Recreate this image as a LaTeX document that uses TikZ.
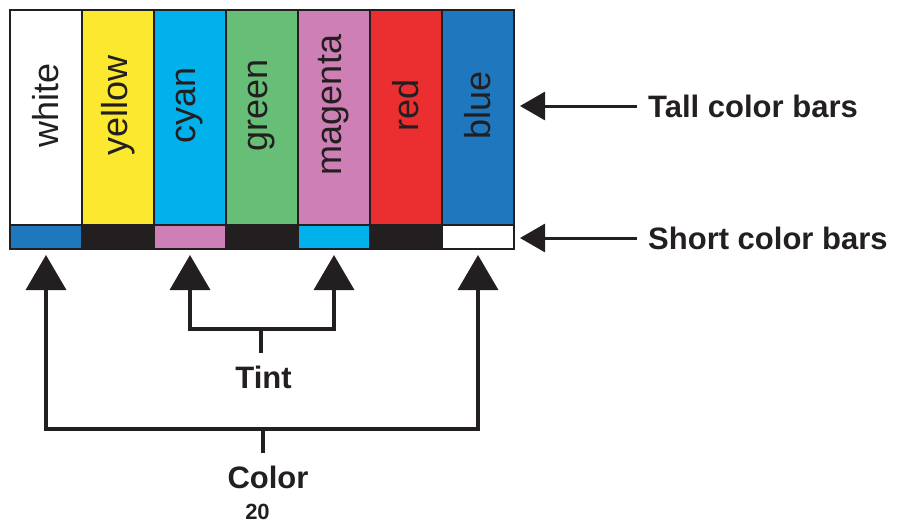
\documentclass[tikz,border=0pt]{standalone}
\usepackage{fontspec}
\setmainfont{Liberation Sans}
\usetikzlibrary{arrows.meta,calc}
\definecolor{baryellow}{HTML}{FCE82E}
\definecolor{barcyan}{HTML}{00B1EC}
\definecolor{bargreen}{HTML}{67BE76}
\definecolor{barmagenta}{HTML}{CE80B6}
\definecolor{barred}{HTML}{EB2E30}
\definecolor{barblue}{HTML}{1F78BE}
\definecolor{ink}{HTML}{231F20}
\tikzset{
  tallbar/.style={draw=ink, line width=1.5pt, minimum width=72pt, minimum height=215pt, inner sep=0pt, outer sep=0pt},
  shortbar/.style={draw=ink, line width=2.5pt, minimum width=72pt, minimum height=24pt, inner sep=0pt, outer sep=0pt},
  barlabel/.style={rotate=90, inner sep=0pt, text=ink, font=\fontsize{36}{36}\selectfont},
  callout/.style={inner sep=0pt, text=ink, font=\bfseries\fontsize{31}{31}\selectfont},
  sidearrow/.style={-{Triangle[length=25pt,width=28pt]}, line width=3pt, draw=ink},
  uparrow/.style={{Triangle[length=35pt,width=40pt]}-{Triangle[length=35pt,width=40pt]}, line width=3.5pt, draw=ink},
  stem/.style={line width=3.5pt, draw=ink}
}
\newcommand{\colbar}[5]{\node[tallbar, fill=#3] (#1) at (#2,-117.5) {}; \node[barlabel] (#1txt) at (#2,-105) {#5}; \node[shortbar, fill=#4] (#1s) at (#2,-237) {};}

\begin{document}
\begin{tikzpicture}[x=1pt, y=1pt]
        \useasboundingbox (0,0) rectangle (905,-525);
        % bars
        \colbar{white}{46}{white}{barblue}{white}
        \colbar{yellow}{118}{baryellow}{ink}{yellow}
        \colbar{cyan}{190}{barcyan}{barmagenta}{cyan}
        \colbar{green}{262}{bargreen}{ink}{green}
        \colbar{magenta}{334}{barmagenta}{barcyan}{magenta}
        \colbar{red}{406}{barred}{ink}{red}
        \colbar{blue}{478}{barblue}{white}{blue}
        \draw[ink, line width=2pt] (white.north west) rectangle (blues.south east);
        % side labels
        \node[callout, anchor=west] (talllbl) at (648,-106) {Tall color bars};
        \node[callout, anchor=west] (shortlbl) at (648,-238) {Short color bars};
        \draw[sidearrow] ($(talllbl.west)+(-11,0)$) -- ($(blue.east |- talllbl.west)+(6,0)$);
        \draw[sidearrow] ($(shortlbl.west)+(-11,0)$) -- ($(blues.east |- shortlbl.west)+(6,0)$);
        % bottom labels
        \node[callout] (tint) at (263.5,-377) {Tint};
        \node[callout] (colour) at (268,-477) {Color};
        \node[inner sep=0pt, text=ink, font=\bfseries\fontsize{22}{22}\selectfont] (page) at (257.5,-512) {20};
        % tips
        \coordinate (wtip) at ($(whites.south)+(0,-6)$);
        \coordinate (ctip) at ($(cyans.south)+(0,-6)$);
        \coordinate (mtip) at ($(magentas.south)+(0,-6)$);
        \coordinate (btip) at ($(blues.south)+(0,-6)$);
        \coordinate (tintjoin) at (261,-329);
        \coordinate (colourjoin) at (263,-429);
        % brackets
        \draw[uparrow] (ctip) |- (tintjoin) -| (mtip);
        \draw[stem] (tintjoin) -- ($(tintjoin |- tint.north)+(0,12)$);
        \draw[uparrow] (wtip) |- (colourjoin) -| (btip);
        \draw[stem] (colourjoin) -- ($(colourjoin |- colour.north)+(0,12)$);
\end{tikzpicture}
\end{document}
